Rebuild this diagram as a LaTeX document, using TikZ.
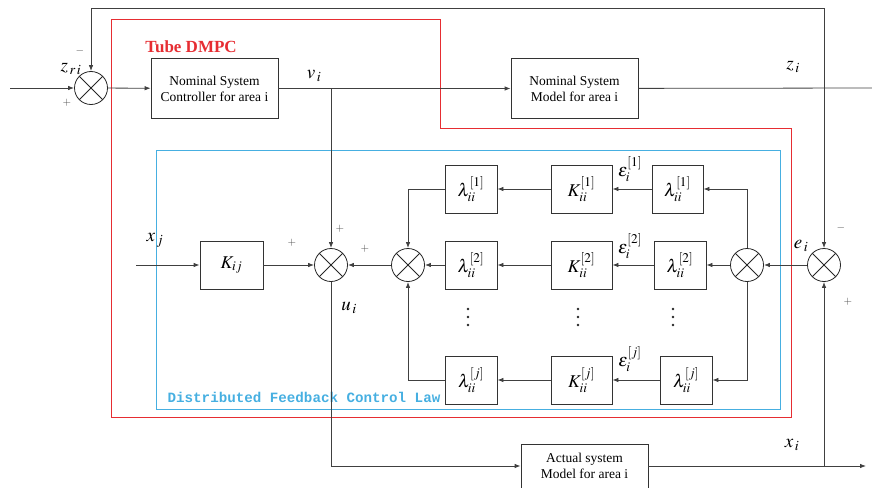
\documentclass[tikz,border=0pt]{standalone}
\usepackage{mathptmx}
\usepackage{fontspec}
\setmainfont{Liberation Serif}
\setmonofont{Liberation Mono}
\usetikzlibrary{arrows.meta,positioning}
\definecolor{tubered}{RGB}{230,45,50}
\definecolor{lawblue}{RGB}{70,175,225}
\tikzset{blockbox/.style={draw=black!80,line width=0.8pt,align=center,inner sep=0pt,font=\fontsize{13.5}{16}\selectfont},
  sumj/.style={circle,draw=black!85,line width=0.8pt,minimum size=33pt,inner sep=0pt,
    path picture={\draw[line width=0.8pt] (path picture bounding box.north west) -- (path picture bounding box.south east)
      (path picture bounding box.north east) -- (path picture bounding box.south west);}},
  wire/.style={draw=black!75,line width=0.8pt},
  sig/.style={font=\fontsize{19}{21}\selectfont},
  sgn/.style={font=\fontsize{11}{12}\selectfont,text=black!70},
  gain/.style={font=\fontsize{18}{20}\selectfont}}

\begin{document}
\begin{tikzpicture}[x=1pt,y=-1pt,>={Latex[length=6pt,width=4.5pt]}]
  \useasboundingbox (0,0) rectangle (872,487);

  % tube and law frames
  \draw[tubered,line width=0.9pt] (111,19) -- (440,19) -- (440,128) -- (791,128) -- (791,417) -- (111,417) -- cycle;
  \draw[lawblue,line width=0.9pt] (156,150) rectangle (780,409);
  \node[text=tubered,font=\fontsize{17}{19}\selectfont\bfseries] (tube) at (191,47) {Tube DMPC};
  \node[text=lawblue,font=\fontsize{14.2}{16}\selectfont\ttfamily\bfseries] (law) at (304,397) {Distributed Feedback Control Law};

  % nominal part
  \node[sumj] (s0) at (91,88) {};
  \node[blockbox,minimum width=127pt,minimum height=60pt] (ctrl) at (214.5,88.5) {Nominal System\\Controller for area i};
  \node[blockbox,minimum width=127pt,minimum height=60pt] (nmod) at (574.5,88.5) {Nominal System\\Model for area i};
  \node[blockbox,minimum width=127pt,minimum height=44pt] (act) at (584.5,466) {Actual system\\Model for area i};

  % feedback law
  \node[blockbox,gain,minimum width=63pt,minimum height=48pt] (kij) at (231.5,265) {$K_{ij}$};
  \node[sumj] (s1) at (331,265) {};
  \node[sumj] (s2) at (408,265) {};
  \node[sumj] (s3) at (747,265) {};
  \node[sumj] (s4) at (824,265) {};

  \node[blockbox,gain,minimum width=52pt,minimum height=48pt] (la1) at (471,189) {$\lambda_{ii}^{[1]}$};
  \node[blockbox,gain,minimum width=52pt,minimum height=48pt] (la2) at (471,265) {$\lambda_{ii}^{[2]}$};
  \node[blockbox,gain,minimum width=52pt,minimum height=48pt] (laj) at (471,380) {$\lambda_{ii}^{[j]}$};
  \node[blockbox,gain,minimum width=61pt,minimum height=48pt] (k1) at (581.5,189) {$K_{ii}^{[1]}$};
  \node[blockbox,gain,minimum width=61pt,minimum height=48pt] (k2) at (581.5,265) {$K_{ii}^{[2]}$};
  \node[blockbox,gain,minimum width=61pt,minimum height=48pt] (kj) at (581.5,380) {$K_{ii}^{[j]}$};
  \node[blockbox,gain,minimum width=51pt,minimum height=48pt] (lb1) at (677.5,189) {$\lambda_{ii}^{[1]}$};
  \node[blockbox,gain,minimum width=52pt,minimum height=48pt] (lb2) at (680,265) {$\lambda_{ii}^{[2]}$};
  \node[blockbox,gain,minimum width=52pt,minimum height=48pt] (lbj) at (686,380) {$\lambda_{ii}^{[j]}$};

  % vertical dots between rows
  \foreach \xd in {468,578,673}
    \foreach \yd in {309,317,325}
      \fill[black!85] (\xd,\yd) circle (1.4pt);

  % free ends
  \coordinate (zin) at (10,88);
  \coordinate (vtap) at (331,88);
  \coordinate (ztap) at (824,88);
  \coordinate (zout) at (872,88);
  \coordinate (xin) at (136,265);
  \coordinate (xtap) at (824,466);
  \coordinate (xout) at (866,466);

  % connectors
  \draw[wire,->] (zin) -- (s0);
  \draw[wire,->] (s0) -- (ctrl);
  \draw[wire,->] (ctrl) -- (nmod);
  \draw[wire] (nmod) -- (zout);
  \draw[wire,->] (ztap) -- (824,8) -| (s0);
  \draw[wire,->] (ztap) -- (s4);
  \draw[wire,->] (vtap) -- (s1);
  \draw[wire,->] (xin) -- (kij);
  \draw[wire,->] (kij) -- (s1);
  \draw[wire,->] (s2) -- (s1);
  \draw[wire,->] (s1) |- (act);
  \draw[wire,->] (act) -- (xout);
  \draw[wire,->] (xtap) -- (s4);
  \draw[wire,->] (s4) -- (s3);
  \draw[wire,->] (s3) |- (lb1);
  \draw[wire,->] (s3) -- (lb2);
  \draw[wire,->] (s3) |- (lbj);
  \foreach \a/\b/\c in {lb1/k1/la1,lb2/k2/la2,lbj/kj/laj}{
    \draw[wire,->] (\a) -- (\b);
    \draw[wire,->] (\b) -- (\c);
  }
  \draw[wire,->] (la1) -| (s2);
  \draw[wire,->] (la2) -- (s2);
  \draw[wire,->] (laj) -| (s2);

  % signals and signs
  \node[sig] (zr) at (71,69) {$z_{\,r\,i}$};
  \node[sig] (vi) at (314,76) {$v_{\,i}$};
  \node[sig] (zi) at (793,67) {$z_{\,i}$};
  \node[sig] (xj) at (155,240) {$x_{\,j}$};
  \node[sig] (ui) at (349,308) {$u_{\,i}$};
  \node[sig] (ei) at (801,246) {$e_{\,i}$};
  \node[sig] (xi) at (792,445) {$x_{\,i}$};
  \node[gain] (e1) at (630,169) {$\varepsilon_i^{[1]}$};
  \node[gain] (e2) at (630,246) {$\varepsilon_i^{[2]}$};
  \node[gain] (ej) at (630,359) {$\varepsilon_i^{[j]}$};
  \node[sgn] (m0) at (80,51) {$-$};
  \node[sgn] (p0) at (67,103) {$+$};
  \node[sgn] (p1) at (292,243) {$+$};
  \node[sgn] (p2) at (340,229) {$+$};
  \node[sgn] (p3) at (365,249) {$+$};
  \node[sgn] (m4) at (841,228) {$-$};
  \node[sgn] (p4) at (848,302) {$+$};
\end{tikzpicture}
\end{document}
